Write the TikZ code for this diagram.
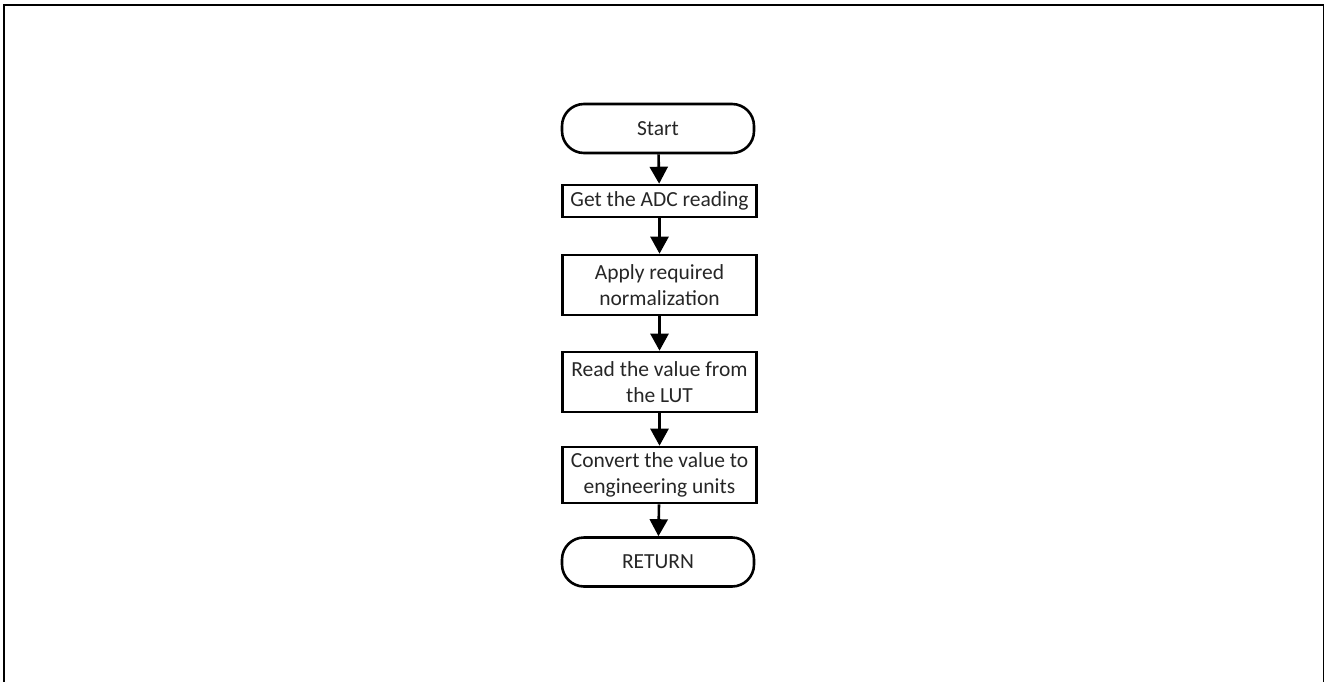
\documentclass[tikz,border=0pt]{standalone}
\usepackage{fontspec}
\setmainfont{Carlito}
\usepackage{tikz}
\usetikzlibrary{arrows.meta}

\tikzset{
    flowbox/.style={draw,line width=2.6pt,minimum width=194pt,align=center,
        inner sep=0pt,font=\fontsize{21.5pt}{26pt}\selectfont,text=black!85},
    terminal/.style={flowbox,minimum width=192pt,minimum height=49pt,rounded corners=22pt},
    flowarrow/.style={line width=2.6pt,-{Triangle[width=18pt,length=17pt]}}
}

\begin{document}
\begin{tikzpicture}[x=1pt,y=-1pt]
        \useasboundingbox (0,0) rectangle (1327,682);
        \draw[line width=1.8pt] (4,700) -- (4,5) -- (1323.5,5) -- (1323.5,700);
        \node[terminal] (start) at (658,128.5) {Start};
        \node[flowbox,minimum height=32pt] (adc) at (659.5,201) {Get the ADC reading};
        \node[flowbox,minimum height=60pt] (norm) at (659.5,285) {Apply required\\normalization};
        \node[flowbox,minimum height=60pt] (lut) at (659.5,382) {Read the value from\\the LUT};
        \node[flowbox,minimum height=56pt] (conv) at (659.5,475) {Convert the value to\\engineering units};
        \node[terminal] (ret) at (658,562) {RETURN};
        \draw[flowarrow] (start) -- (adc);
        \draw[flowarrow] (adc) -- (norm);
        \draw[flowarrow] (norm) -- (lut);
        \draw[flowarrow] (lut) -- (conv);
        \draw[flowarrow] (conv) -- (ret);
    \end{tikzpicture}
\end{document}
